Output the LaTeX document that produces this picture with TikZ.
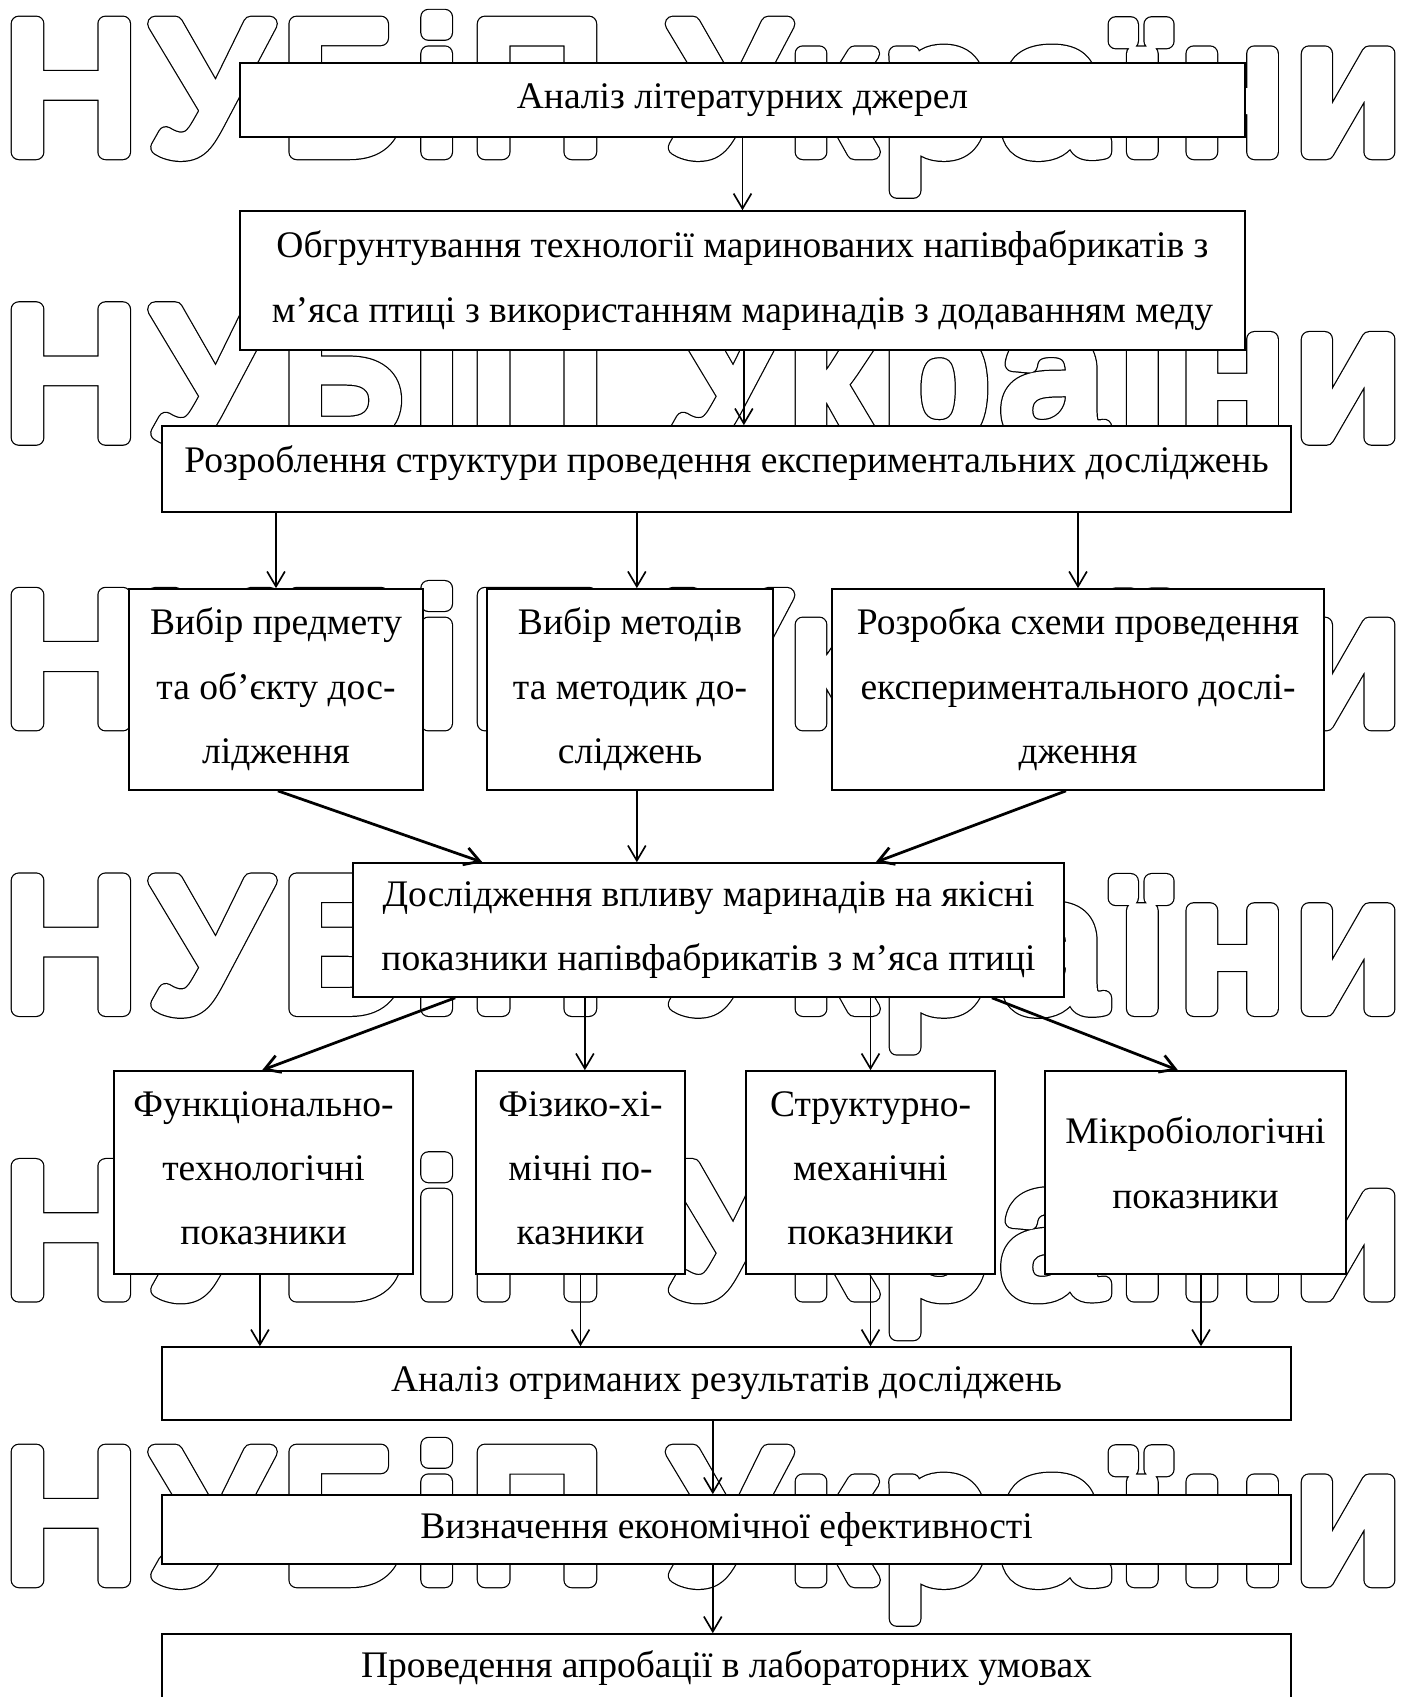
\documentclass[tikz,border=0pt]{standalone}
\usepackage{fontspec}
\setmainfont{Liberation Serif}
\newfontfamily\wmfont[LetterSpace=6.7]{Liberation Sans}
\usetikzlibrary{arrows.meta,positioning,calc}

% контурний текст
\newcommand\obrys[1]{%
  \rlap{\special{pdf:literal direct 1 Tr 6 w 1 j 0 G}#1}%
  \special{pdf:literal direct 2 Tr 5.1 w 1 j 1 G 1 g}#1%
  \special{pdf:literal direct 0 Tr 0 G 0 g}}

\begin{document}
\begin{tikzpicture}[x=0.365pt, y=-0.365pt,
  box/.style={draw, fill=white, line width=0.6pt, inner sep=2pt, align=center,
    font=\fontsize{13.7}{23.5}\selectfont},
  wmark/.style={anchor=base west, inner sep=0pt, font=\wmfont\fontsize{68}{68}\selectfont},
  arr/.style={-{Straight Barb[length=5.5pt,width=6.5pt]}, line width=0.6pt},
  arrb/.style={arr, line width=1pt}]
\useasboundingbox (0,0) rectangle (1408,1697);

% водяний знак
\foreach \i in {0,...,5}
  \node[wmark] (wm\i) at (3,{152+285.6*\i}) {\obrys{НУБіП України}};

% блоки
\node[box, minimum width=366.8pt, minimum height=27pt] (lit) at (742.5,100) {Аналіз літературних джерел};
\node[box, minimum width=366.8pt, minimum height=50.7pt] (obgr) at (742.5,280.5) {Обгрунтування технології маринованих напівфабрикатів з\\м’яса птиці з використанням маринадів з додаванням меду};
\node[box, minimum width=412.1pt, minimum height=31.4pt, text depth=7pt] (rozr) at (726.5,469) {Розроблення структури проведення експериментальних досліджень};

\node[box, minimum width=107.3pt, minimum height=73.4pt] (predm) at (276,689.5) {Вибір предмету\\та об’єкту дос-\\лідження};
\node[box, minimum width=104.4pt, minimum height=73.4pt] (metod) at (630,689.5) {Вибір методів\\та методик до-\\сліджень};
\node[box, minimum width=179.6pt, minimum height=73.4pt] (shema) at (1078,689.5) {Розробка схеми проведення\\експериментального дослі-\\дження};

\node[box, minimum width=259.5pt, minimum height=48.9pt] (vplyv) at (708.5,930) {Дослідження впливу маринадів на якісні\\показники напівфабрикатів з м’яса птиці};

\node[box, minimum width=109.1pt, minimum height=74.1pt, text depth=3.2pt] (funk) at (263.5,1172.5) {Функціонально-\\технологічні\\показники};
\node[box, minimum width=76.3pt, minimum height=74.1pt, text depth=3.2pt] (fiz) at (580.5,1172.5) {Фізико-хі-\\мічні по-\\казники};
\node[box, minimum width=90.9pt, minimum height=74.1pt, text depth=3.2pt] (strukt) at (870.5,1172.5) {Структурно-\\механічні\\показники};
\node[box, minimum width=109.9pt, minimum height=74.1pt, text depth=7.4pt] (mikro) at (1195.5,1172.5) {Мікробіологічні\\показники};

\node[box, minimum width=412.1pt, minimum height=26.6pt] (rezult) at (726.5,1383.5) {Аналіз отриманих результатів досліджень};
\node[box, minimum width=412.1pt, minimum height=25.2pt] (ekon) at (726.5,1529.5) {Визначення економічної ефективності};
\node[box, minimum width=412.1pt, minimum height=24.8pt] (aprob) at (726.5,1668) {Проведення апробації в лабораторних умовах};

% стрілки
\draw[arr] (lit.south) -- (obgr.north);
\draw[arr] ([xshift=0.5pt]obgr.south) -- ([xshift=0.5pt]obgr.south |- rozr.north);
\draw[arr] (rozr.south -| predm.north) -- (predm.north);
\draw[arr] ([xshift=2.5pt]rozr.south -| metod.north) -- ([xshift=2.5pt]metod.north);
\draw[arr] (rozr.south -| shema.north) -- (shema.north);
\draw[arrb] ([xshift=0.7pt]predm.south) -- ([xshift=47.5pt]vplyv.north west);
\draw[arr] ([xshift=2.5pt]metod.south) -- ([xshift=2.5pt]metod.south |- vplyv.north);
\draw[arrb] ([xshift=-4.4pt]shema.south) -- ([xshift=-69pt]vplyv.north east);
\draw[arrb] ([xshift=37.6pt]vplyv.south west) -- ([xshift=-0.5pt]funk.north);
\draw[arr] ([xshift=1.6pt]fiz.north |- vplyv.south) -- ([xshift=1.6pt]fiz.north);
\draw[arr] (strukt.north |- vplyv.south) -- (strukt.north);
\draw[arrb] ([xshift=-26.6pt]vplyv.south east) -- ([xshift=-6.4pt]mikro.north);
\draw[arr] ([xshift=-1.3pt]funk.south) -- ([xshift=-1.3pt]funk.south |- rezult.north);
\draw[arr] (fiz.south) -- (fiz.south |- rezult.north);
\draw[arr] (strukt.south) -- (strukt.south |- rezult.north);
\draw[arr] ([xshift=2pt]mikro.south) -- ([xshift=2pt]mikro.south |- rezult.north);
\draw[arr] ([xshift=-5pt]rezult.south) -- ([xshift=-5pt]ekon.north);
\draw[arr] ([xshift=-5pt]ekon.south) -- ([xshift=-5pt]aprob.north);
\end{tikzpicture}
\end{document}
